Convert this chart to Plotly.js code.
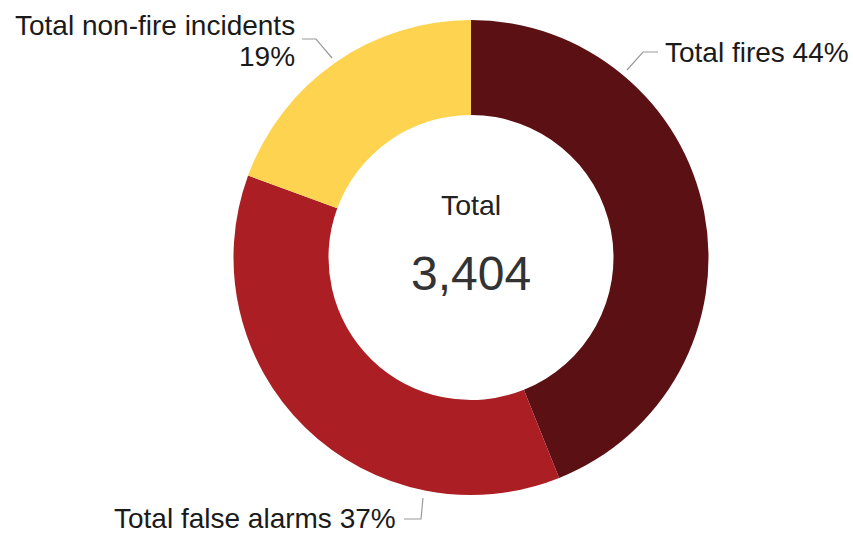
<!DOCTYPE html>
<html>
<head>
<meta charset="utf-8">
<script src="https://cdn.plot.ly/plotly-3.0.1.min.js"></script>
<style>html,body{margin:0;padding:0;background:#fff;}#chart{width:853px;height:535px;}</style>
</head>
<body>
<div id="chart"></div>
<script>
// Data
const categories = ["Total fires", "Total false alarms", "Total non-fire incidents"];
const counts = [1496, 1248, 660];
const percentLabels = ["44%", "37%", "19%"];
const totalLabel = "Total";
const totalValue = "3,404";
const colors = ["#5b1013", "#ab1f24", "#fdd34f"];

const W = 853, H = 535;
const px = x => x / W;
const py = y => 1 - y / H;
const cx = 471, cy = 257.5, R = 237.5;

const trace = {
  type: "pie",
  labels: categories,
  values: counts,
  sort: false,
  direction: "clockwise",
  rotation: 0,
  hole: 0.6,
  textinfo: "none",
  hoverinfo: "label+percent",
  marker: {colors: colors, line: {width: 0}},
  domain: {x: [px(cx - R), px(cx + R)], y: [py(cy + R), py(cy - R)]},
  showlegend: false
};

const FAM = "Liberation Sans, Arial, sans-serif";
const labelFont = {family: FAM, size: 28, color: "#1a1a1a"};

function leader(points) {
  let d = "M " + points.map(p => px(p[0]) + "," + py(p[1])).join(" L ");
  return {type: "path", xref: "paper", yref: "paper", path: d, line: {color: "#9a9a9a", width: 1.2}};
}

const layout = {
  width: W, height: H,
  margin: {l: 0, r: 0, t: 0, b: 0},
  paper_bgcolor: "#fff",
  showlegend: false,
  annotations: [
    {xref: "paper", yref: "paper", x: px(cx), y: py(205), text: totalLabel, showarrow: false,
     xanchor: "center", yanchor: "middle", font: {family: FAM, size: 28.5, color: "#222"}},
    {xref: "paper", yref: "paper", x: px(cx), y: py(273), text: totalValue, showarrow: false,
     xanchor: "center", yanchor: "middle", font: {family: FAM, size: 48, color: "#333"}},
    {xref: "paper", yref: "paper", x: px(663), y: py(53), text: categories[0] + " " + percentLabels[0], showarrow: false,
     xanchor: "left", yanchor: "middle", font: labelFont},
    {xref: "paper", yref: "paper", x: px(397), y: 0, text: categories[1] + " " + percentLabels[1], showarrow: false,
     xanchor: "right", yanchor: "bottom", borderpad: 0, font: labelFont},
    {xref: "paper", yref: "paper", x: px(297), y: py(25), text: categories[2], showarrow: false,
     xanchor: "right", yanchor: "middle", font: labelFont},
    {xref: "paper", yref: "paper", x: px(297), y: py(56), text: percentLabels[2], showarrow: false,
     xanchor: "right", yanchor: "middle", font: labelFont}
  ],
  shapes: [
    leader([[658, 52], [643, 52], [627, 70]]),
    leader([[404, 519], [421, 519], [423, 498]]),
    leader([[302, 39], [316, 39], [332, 58]])
  ]
};

Plotly.newPlot("chart", [trace], layout, {displayModeBar: false, staticPlot: true});
</script>
</body>
</html>
